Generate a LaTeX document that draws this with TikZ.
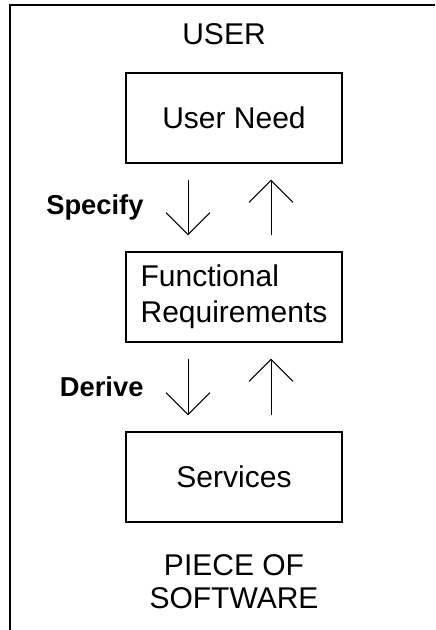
\documentclass[tikz,border=0pt]{standalone}
\usepackage{fontspec}
\setmainfont{Liberation Sans}
\usetikzlibrary{positioning, arrows.meta}

\tikzset{
  block/.style={draw, line width=0.9pt, minimum width=162pt, minimum height=67.5pt,
    inner sep=4pt, font=\fontsize{22.5}{27}\selectfont, align=left},
  caption/.style={font=\fontsize{22.5}{24.75}\selectfont, align=center},
  verb/.style={font=\bfseries\fontsize{20.5}{24}\selectfont, inner sep=0pt, anchor=east, xshift=-33pt},
}

\begin{document}
\begin{tikzpicture}
	[x=0.75pt, y=-0.75pt, >={Straight Barb[length=16.5pt,width=33pt]}, on grid]
   \useasboundingbox (0,0) rectangle (435,630);
   % open frame, top and left side only
   \draw[line width=1.2pt] (10,630) -- (10,5) -- (435,5);
   \node[caption] (user) at (224,34) {USER};
   \node[block] (need) at (234,118) {User Need};
   \node[block] (req) [below=134.25pt of need] {Functional\\Requirements};
   \node[block] (serv) [below=135pt of req] {Services};
   \node[caption] (piece) [below=78.4pt of serv] {PIECE OF\\SOFTWARE};
    \path[->, line width=0.75pt, shorten <=12pt, shorten >=12pt]
    ([xshift=-34.5pt]need.south)
          edge node[verb] {Specify} ([xshift=-34.5pt]req.north)
    ([xshift=27.75pt]req.north)
          edge ([xshift=27.75pt]need.south)
    ([xshift=-34.5pt]req.south)
          edge node[verb] {Derive} ([xshift=-34.5pt]serv.north)
    ([xshift=27.75pt]serv.north)
          edge ([xshift=27.75pt]req.south);
\end{tikzpicture}
\end{document}
